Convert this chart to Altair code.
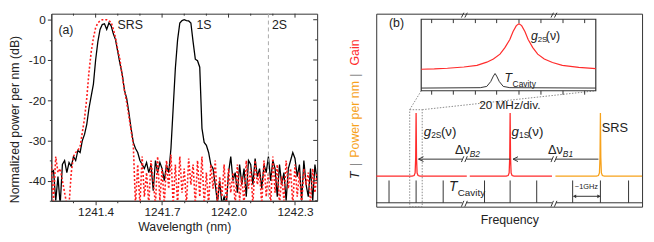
import json
import altair as alt
import pandas as pd

FONT = "Liberation Sans"
TXT = "#222222"
LINE = "#333333"
RED = "#ff2b2b"
ORANGE = "#f7a21b"
GRAY = "#8a8a8a"

# ---------------- panel (a): measured spectra ----------------
WL_START = 1241.20
WL_STEP = 0.01
black_db = [
    -38, -37.5, -45, -39, -46, -36, -35, -38, -35.5, -36.5,
    -34, -35, -32.5, -33, -30, -28.5, -26, -22, -19, -16,
    -10, -5.5, -2.4, -1.2, -1.0, -2.4, -0.8, -1.5, -3.5, -5,
    -8, -11, -13.5, -17.5, -19.5, -23, -27, -30.5, -32, -33,
    -35, -36, -37, -35.5, -38, -36, -42.5, -35, -38, -35.5,
    -37, -40, -36, -38, -32, -22, -12, -5, -0.8, -0.2,
    0, -0.2, -0.3, -0.8, -5.5, -9.8, -10.2, -11.8, -27, -30.5,
    -31.2, -33, -36, -37, -41, -45.5, -40, -46, -44, -46,
    -38, -34, -40, -38, -43, -36, -41, -37, -44, -35,
    -36, -41, -34.5, -39, -37, -42, -36, -38, -34, -40,
    -35, -37, -44, -36, -41, -38, -45, -37, -35, -33,
    -34.5, -39, -36, -45, -35, -41, -44, -37, -45, -36,
    -40]
red_db = [
    -36, -45, -34, -38, -37, -40, -43, -46, -46, -38,
    -34, -33, -32.5, -31.5, -28, -24.5, -19.5, -13, -8, -4.5,
    -2, -0.8, -0.3, 0, 0, 0, -0.3, -0.6, -2.4, -4.5,
    -7.5, -10, -14, -17.5, -20.5, -24, -27.5, -31, -46, -36,
    -46, -34, -44, -38, -46, -35, -40, -46, -34, -45,
    -37, -46, -35, -42, -33.5, -46, -36, -46, -34, -43,
    -37, -46, -34.5, -41, -36, -46, -35, -44, -34, -46,
    -38, -46, -36, -42, -35, -46, -39, -44, -36, -46,
    -37, -43, -38, -46, -36, -45, -39, -46, -35, -42,
    -37, -46, -35, -41, -38, -46, -35, -44, -38, -46,
    -34, -43, -36, -46, -39, -45, -35, -42, -37, -46,
    -36, -44, -38, -46, -37, -41, -38, -46, -37, -43,
    -38]
wavelength = [round(WL_START + WL_STEP * i, 2) for i in range(len(black_db))]

X_DOMAIN = [1241.2, 1242.4]
Y_DOMAIN = [-45, 1.5]
x_ticks = [1241.3, 1241.4, 1241.5, 1241.6, 1241.7, 1241.8, 1241.9, 1242.0, 1242.1, 1242.2, 1242.3]
x_major = [1241.4, 1241.7, 1242.0, 1242.3]
y_ticks = [-45, -40, -35, -30, -25, -20, -15, -10, -5, 0]
y_major = [-40, -30, -20, -10, 0]
line_2s = [1242.18]
labels_a = ["(a)", "SRS", "1S", "2S"]
labels_a_wl = [1241.232, 1241.499, 1241.855, 1242.196]
labels_a_db = [-2.5, -1.4, -1.4, -1.4]

W_A, H_A = 270, 190
W_B, H_B = 270, 196

tx = "indexof(" + json.dumps(x_major) + ", datum.value) >= 0"
ty = "indexof(" + json.dumps(y_major) + ", datum.value) >= 0"

xsc = alt.Scale(domain=X_DOMAIN, nice=False, zero=False)
ysc = alt.Scale(domain=Y_DOMAIN, nice=False, zero=False)
xaxis = alt.Axis(values=x_ticks, grid=False,
                 tickSize={"condition": {"test": tx, "value": 4}, "value": 2},
                 labelExpr=tx + " ? format(datum.value, '.1f') : ''",
                 title="Wavelength (nm)", labelFontSize=12, titleFontSize=12.5,
                 labelPadding=2, titlePadding=3, tickColor=LINE, domainColor=LINE)
yaxis = alt.Axis(values=y_ticks, grid=False,
                 tickSize={"condition": {"test": ty, "value": 4}, "value": 2},
                 labelExpr=ty + " ? '' + datum.value : ''",
                 title="Normalized power per nm (dB)", labelFontSize=12, titleFontSize=12.5,
                 labelPadding=2, titlePadding=7, titleY=107, tickColor=LINE, domainColor=LINE)
XA = alt.X("wl:Q", scale=xsc, axis=xaxis)
YA = alt.Y("db:Q", scale=ysc, axis=yaxis)

df_black = pd.DataFrame({"wl": wavelength, "db": black_db})
df_red = pd.DataFrame({"wl": wavelength, "db": red_db})

black = alt.Chart(df_black).mark_line(color="black", strokeWidth=1.3, clip=True).encode(x=XA, y=YA)
red = alt.Chart(df_red).mark_line(color="#ff1a1a", strokeWidth=1.6, strokeDash=[2, 2], clip=True).encode(x=XA, y=YA)
vline = alt.Chart(pd.DataFrame({"wl": line_2s})).mark_rule(color="#aaaaaa", strokeDash=[4, 3], strokeWidth=1).encode(x=XA)
txt_a = alt.Chart(pd.DataFrame({"wl": labels_a_wl, "db": labels_a_db, "t": labels_a})).mark_text(
    align="left", baseline="middle", fontSize=12.5, color=TXT).encode(x=XA, y=YA, text="t:N")

x_minor = [v for v in x_ticks if v not in x_major]
y_minor = [v for v in y_ticks if v not in y_major]
top_maj = alt.Chart(pd.DataFrame({"wl": x_major})).mark_rule(color=LINE).encode(x=XA, y=alt.value(0), y2=alt.value(4))
top_min = alt.Chart(pd.DataFrame({"wl": x_minor})).mark_rule(color=LINE).encode(x=XA, y=alt.value(0), y2=alt.value(2))
r_maj = alt.Chart(pd.DataFrame({"db": y_major})).mark_rule(color=LINE).encode(y=YA, x=alt.value(W_A), x2=alt.value(W_A - 4))
r_min = alt.Chart(pd.DataFrame({"db": y_minor})).mark_rule(color=LINE).encode(y=YA, x=alt.value(W_A), x2=alt.value(W_A - 2))

panel_a = alt.layer(black, red, vline, txt_a, top_maj, top_min, r_maj, r_min).properties(width=W_A, height=H_A)

# ---------------- panel (b): schematic (u = frequency, a.u.; v = level, a.u.) ----------------
U_DOMAIN = [0, 270]
V_DOMAIN = [0, 199]
base_level = 31.5
peak_height = 65
peak_du = [-4, -2, -1, -0.4, 0, 0.4, 1, 2, 4]
peak_rel = [0, 0.01, 0.05, 0.3, 1, 0.3, 0.05, 0.01, 0]
seg_start = [0, 95, 182]
seg_end = [92, 178.5, 270]
peak_u = [40.5, 136, 227.7]
seg_color = [RED, RED, ORANGE]

comb_u = [13, 40.5, 68, 110, 136, 163, 199.5, 227.7, 256.3]
comb_v = [4, 27]
comb_base_start = [0, 91.5, 182.5]
comb_base_end = [87.5, 178.5, 270]

arrow_v = 49
arrow_segments = [(225.7, 182.5), (178.5, 139), (136, 91.5), (87.5, 43)]
arrow_tips = [139, 43]
break_u = [89.5, 180.5]
break_levels = [(195, 200), (0, 6), (46, 52)]

ghz_v = 10.7
ghz_u = [200.5, 227.2]

inset_u = [45.7, 223]
inset_v = [119.5, 193.3]
inset_ticks = [56.3, 78.3, 100.7, 122.3, 145, 167.3, 189.7, 211.7]
inset_red_u = [45.7, 59, 72.3, 89, 102.3, 112.3, 119, 125.7, 130.7, 135.7, 139, 142.3, 145,
               147.7, 151, 154.3, 159, 164, 170.7, 179, 189, 205.7, 223]
inset_red_v = [141.7, 142, 142.7, 144, 145.7, 149, 152.3, 157.3, 164, 172.3, 180.7, 186.7, 188.7,
               186.7, 180.7, 172.3, 164, 157.3, 152.3, 148.7, 145.7, 143.7, 142.3]
inset_blk_u = [45.7, 105.7, 112.3, 116.3, 119, 120.7, 122.3, 125, 129, 135.7, 223]
inset_blk_v = [122.3, 122.7, 124, 129, 134.7, 137.3, 134.7, 129, 124, 122.7, 122.3]

zoom_box_u = [34, 46.7]
zoom_box_v = [0, 100]

rows_under, rows_over = [], []


def add(rows, seg, us, vs, color, w):
    for k, (u, v) in enumerate(zip(us, vs)):
        rows.append(dict(seg=seg, k=k, u=u, v=v, c=color, w=w))


for i in range(3):
    us = [seg_start[i]] + [peak_u[i] + d for d in peak_du] + [seg_end[i]]
    vs = [base_level] + [base_level + peak_height * r for r in peak_rel] + [base_level]
    add(rows_under, f"gain{i}", us, vs, seg_color[i], 1.3)
for i in range(3):
    add(rows_under, f"cb{i}", [comb_base_start[i], comb_base_end[i]], [comb_v[0], comb_v[0]], LINE, 1)
for i, (a, b) in enumerate(arrow_segments):
    add(rows_under, f"ar{i}", [a, b], [arrow_v, arrow_v], LINE, 1)
for i, t in enumerate(arrow_tips):
    add(rows_under, f"ah{i}", [t + 5, t, t + 5], [arrow_v + 2.5, arrow_v, arrow_v - 2.5], LINE, 1)
add(rows_under, "ghz", ghz_u, [ghz_v, ghz_v], LINE, 1)
n = 0
for c in break_u:
    for (v0, v1) in break_levels:
        add(rows_under, f"br{n}a", [c - 3, c - 0.5], [v0, v1], LINE, 1)
        add(rows_under, f"br{n}b", [c + 0.5, c + 3], [v0, v1], LINE, 1)
        n += 1
add(rows_over, "ired", inset_red_u, inset_red_v, RED, 1.2)
add(rows_over, "iblk", inset_blk_u, inset_blk_v, LINE, 1)

usc = alt.Scale(domain=U_DOMAIN, nice=False, zero=False)
vsc = alt.Scale(domain=V_DOMAIN, nice=False, zero=False)
XU = alt.X("u:Q", scale=usc, axis=None)
YV = alt.Y("v:Q", scale=vsc, axis=None)


def polylines(rows):
    return alt.Chart(pd.DataFrame(rows)).mark_line().encode(
        x=XU, y=YV, detail="seg:N", order="k:Q",
        color=alt.Color("c:N", scale=None), strokeWidth=alt.StrokeWidth("w:Q", scale=None))


under = polylines(rows_under)
over = polylines(rows_over)

zbox = alt.Chart(pd.DataFrame({"u": [zoom_box_u[0]], "u2": [zoom_box_u[1]], "v": [zoom_box_v[0]], "v2": [zoom_box_v[1]]})).mark_rect(
    filled=False, stroke=GRAY, strokeDash=[1.5, 1.5], strokeWidth=1).encode(x=XU, x2="u2:Q", y=YV, y2="v2:Q")
conn = alt.Chart(pd.DataFrame({"u": [zoom_box_u[0], zoom_box_u[1]], "u2": [inset_u[0], inset_u[1]],
                               "v": [zoom_box_v[1], zoom_box_v[1]], "v2": [inset_v[0], inset_v[0]]})).mark_rule(
    color=GRAY, strokeDash=[1.5, 1.5], strokeWidth=1).encode(x=XU, x2="u2:Q", y=YV, y2="v2:Q")
inset_rect = alt.Chart(pd.DataFrame({"u": [inset_u[0]], "u2": [inset_u[1]], "v": [inset_v[0]], "v2": [inset_v[1]]})).mark_rect(
    fill="white", stroke=LINE, strokeWidth=1.2).encode(x=XU, x2="u2:Q", y=YV, y2="v2:Q")
comb = alt.Chart(pd.DataFrame({"u": comb_u, "v": [comb_v[0]] * len(comb_u), "v2": [comb_v[1]] * len(comb_u)})).mark_rule(
    color=LINE, strokeWidth=1).encode(x=XU, y=YV, y2="v2:Q")
itick_rows = ([dict(u=u, v=inset_v[1], v2=inset_v[1] - 4) for u in inset_ticks] +
              [dict(u=u, v=inset_v[0], v2=inset_v[0] - 4) for u in inset_ticks])
iticks = alt.Chart(pd.DataFrame(itick_rows)).mark_rule(color=LINE, strokeWidth=1).encode(x=XU, y=YV, y2="v2:Q")
ghz_heads = alt.Chart(pd.DataFrame({"u": [ghz_u[0] + 1, ghz_u[1] - 1], "v": [ghz_v, ghz_v],
                                    "s": ["triangle-left", "triangle-right"]})).mark_point(
    filled=True, size=14, color=LINE, opacity=1).encode(x=XU, y=YV, shape=alt.Shape("s:N", scale=None))

normal_left = [
    ("(b)", 13, 189, 12.5, TXT), ("2S", 55.8, 73.5, 8.5, TXT), ("(ν)", 65.7, 77, 13.5, TXT),
    ("1S", 145, 73.5, 8.5, TXT), ("(ν)", 154, 77, 13.5, TXT), ("SRS", 229, 81, 13, TXT),
    ("Δν", 80, 58, 13, TXT), ("Δν", 174.5, 58, 13, TXT), ("Cavity", 82.8, 14.5, 10, TXT),
    ("2S", 164, 172.3, 8, TXT), ("(ν)", 172.3, 175.7, 12.5, TXT), ("Cavity", 138.5, 126, 8.5, TXT)]
italic_left = [
    ("g", 48.3, 77, 13.5, TXT), ("g", 137.3, 77, 13.5, TXT), ("B2", 95, 54.5, 8.5, TXT),
    ("B1", 189.5, 54.5, 8.5, TXT), ("T", 74, 20.7, 14, TXT), ("g", 157.3, 175.7, 12.5, TXT),
    ("T", 130.2, 132.3, 12.5, TXT)]
normal_center = [
    ("20 MHz/div.", 135.7, 104.7, 12, TXT), ("~1GHz", 213.5, 20, 7.5, TXT),
    ("Frequency", 135.7, -14, 12.5, TXT)]
rot_normal = [("Gain", -22, 159, 12.5, RED), ("|", -22, 135.7, 12.5, GRAY),
              ("Power per nm", -22, 90, 12.5, ORANGE), ("|", -22, 43.7, 12.5, GRAY)]
rot_italic = [("T", -22, 32.3, 12.5, TXT)]


def texts(items, align, style="normal", angle=0):
    df = pd.DataFrame(items, columns=["t", "u", "v", "fs", "c"])
    return alt.Chart(df).mark_text(align=align, baseline="middle", fontStyle=style, angle=angle).encode(
        x=XU, y=YV, text="t:N", size=alt.Size("fs:Q", scale=None), color=alt.Color("c:N", scale=None))


panel_b = alt.layer(
    zbox, conn, under, comb, inset_rect, over, iticks, ghz_heads,
    texts(normal_left, "left"), texts(italic_left, "left", "italic"),
    texts(normal_center, "center"), texts(rot_normal, "center", angle=270),
    texts(rot_italic, "center", "italic", angle=270),
).properties(width=W_B, height=H_B)

chart = alt.hconcat(panel_a, panel_b, spacing=60, bounds="flush", padding=0).configure_view(
    stroke=LINE, strokeWidth=1).configure_axis(
    labelFont=FONT, titleFont=FONT, labelColor=TXT, titleColor=TXT, titleFontWeight="normal").configure_text(font=FONT)

chart.save("out.html", embed_options={"renderer": "svg", "actions": False})
